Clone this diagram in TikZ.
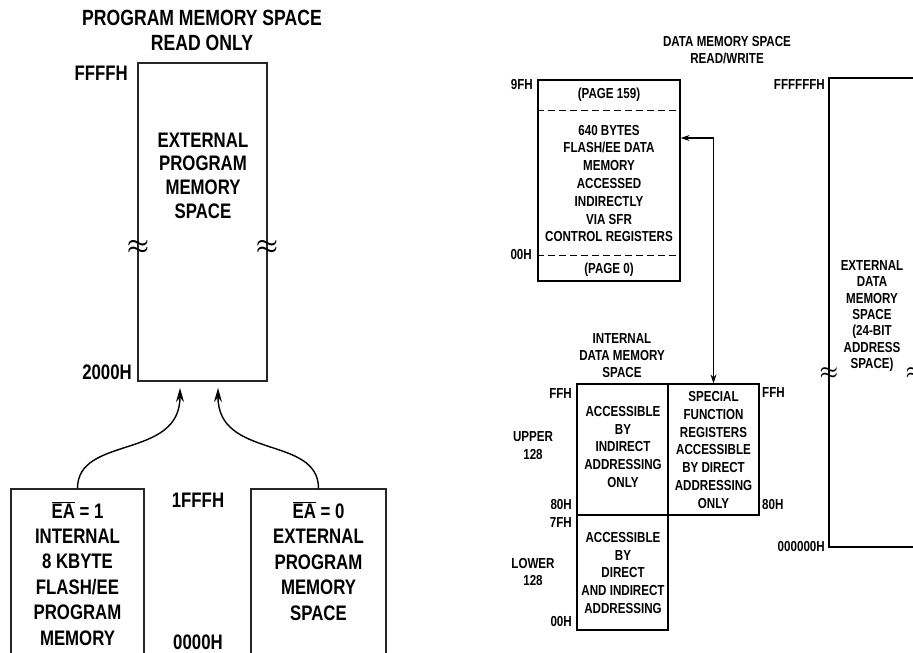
\documentclass[tikz,border=0pt]{standalone}
\usepackage{fontspec}
\setmainfont{Liberation Sans}[FakeStretch=0.8]
\usetikzlibrary{arrows.meta,positioning}

\newcommand{\ovl}[1]{$\overline{\mbox{#1}}$}

\tikzset{
  membox/.style={draw=black!85, line width=1.2pt, inner sep=0pt},
  bigtxt/.style={font=\bfseries\fontsize{21}{25}\selectfont, align=center, inner sep=0pt},
  smalltxt/.style={font=\bfseries\fontsize{14.5}{17.8}\selectfont, align=center, inner sep=0pt},
  squig/.style={font=\boldmath\fontsize{30}{30}\selectfont, inner sep=0pt},
  smallsquig/.style={font=\boldmath\fontsize{21}{21}\selectfont, inner sep=0pt},
  parrow/.style={line width=1.4pt, -{Stealth[length=14pt,width=8pt]}},
  darrow/.style={line width=1.2pt, {Stealth[length=9pt,width=6pt]}-{Stealth[length=9pt,width=6pt]}}
}

\begin{document}
\begin{tikzpicture}[x=1pt,y=-1pt]
  \clip (0,0) rectangle (913,653);
  \fill[white] (0,0) rectangle (913,653);

  % program memory space
  \node[bigtxt, font=\bfseries\fontsize{22}{25}\selectfont] (ptitle) at (202,30.5) {PROGRAM MEMORY SPACE\\READ ONLY};
  \node[membox, minimum width=129pt, minimum height=318pt] (pmem) at (202.5,222) {};
  \node[bigtxt, font=\bfseries\fontsize{21}{23.7}\selectfont] (pmemtxt) at (203,175.5) {EXTERNAL\\PROGRAM\\MEMORY\\SPACE};
  \node[squig] (psq1) at (138,247) {$\approx$};
  \node[squig] (psq2) at (267,247) {$\approx$};
  \node[bigtxt, anchor=east] (lffff) at (128,73) {FFFFH};
  \node[bigtxt, anchor=east] (l2000) at (132,372) {2000H};
  \node[bigtxt] (l1fff) at (198,500) {1FFFH};
  \node[bigtxt] (l0000) at (198,642) {0000H};

  % internal and external program memory
  \node[membox, minimum width=133pt, minimum height=176pt] (ea1) at (77.5,577) {};
  \node[bigtxt, font=\bfseries\fontsize{21}{25.4}\selectfont] (ea1txt) at (77.5,573.5)
    {\ovl{EA} = 1\\INTERNAL\\8 KBYTE\\FLASH/EE\\PROGRAM\\MEMORY};
  \node[membox, minimum width=135pt, minimum height=176pt] (ea0) at (318.5,577) {};
  \node[bigtxt, font=\bfseries\fontsize{21}{25.5}\selectfont] (ea0txt) at (318.5,561)
    {\ovl{EA} = 0\\EXTERNAL\\PROGRAM\\MEMORY\\SPACE};
  \coordinate (pin1) at (180,388);
  \coordinate (pin0) at (218,388);
  \draw[parrow] (ea1.north) .. controls (77.5,435) and (180,460) .. (pin1);
  \draw[parrow] (ea0.north) .. controls (318.5,435) and (218,460) .. (pin0);

  % data memory space
  \node[smalltxt, font=\bfseries\fontsize{14.5}{17}\selectfont] (dtitle) at (727,50.5) {DATA MEMORY SPACE\\READ/WRITE};

  % flash/ee data memory
  \node[membox, draw=black, minimum width=142pt, minimum height=201pt] (flash) at (609,180.5) {};
  \draw[line width=1pt, dash pattern=on 7pt off 4pt] ([yshift=-31pt]flash.north west) -- ([yshift=-31pt]flash.north east);
  \draw[line width=1pt, dash pattern=on 7pt off 4pt] ([yshift=26pt]flash.south west) -- ([yshift=26pt]flash.south east);
  \node[smalltxt] (pg159) at (609,95) {(PAGE 159)};
  \node[smalltxt] (flashtxt) at (609,183.5) {640 BYTES\\FLASH/EE DATA\\MEMORY\\ACCESSED\\INDIRECTLY\\VIA SFR\\CONTROL REGISTERS};
  \node[smalltxt] (pg0) at (609,270) {(PAGE 0)};
  \node[smalltxt, anchor=east] (l9f) at (533,85) {9FH};
  \node[smalltxt, anchor=east] (lf00) at (532,255) {00H};

  % internal data memory
  \node[smalltxt, font=\bfseries\fontsize{14.5}{17}\selectfont] (ititle) at (622,356) {INTERNAL\\DATA MEMORY\\SPACE};
  \node[membox, draw=black, minimum width=91pt, minimum height=131pt] (iup) at (622.5,449.5) {};
  \node[membox, draw=black, minimum width=91pt, minimum height=131pt] (sfr) at (713.5,449.5) {};
  \node[membox, draw=black, minimum width=91pt, minimum height=115pt] (ilow) at (622.5,572.5) {};
  \node[smalltxt] (iuptxt) at (623,447) {ACCESSIBLE\\BY\\INDIRECT\\ADDRESSING\\ONLY};
  \node[smalltxt, font=\bfseries\fontsize{14.5}{17.7}\selectfont] (sfrtxt) at (713.5,450) {SPECIAL\\FUNCTION\\REGISTERS\\ACCESSIBLE\\BY DIRECT\\ADDRESSING\\ONLY};
  \node[smalltxt] (ilowtxt) at (623,573) {ACCESSIBLE\\BY\\DIRECT\\AND INDIRECT\\ADDRESSING};
  \node[smalltxt, anchor=east] (lffi) at (572,394) {FFH};
  \node[smalltxt] (lupper) at (533,445.5) {UPPER\\128};
  \node[smalltxt, anchor=east] (l80i) at (572,505) {80H};
  \node[smalltxt, anchor=east] (l7fi) at (572,523) {7FH};
  \node[smalltxt] (llower) at (533,572) {LOWER\\128};
  \node[smalltxt, anchor=east] (l00i) at (572,622) {00H};
  \node[smalltxt, anchor=west] (lffs) at (762,393) {FFH};
  \node[smalltxt, anchor=west] (l80s) at (762,505) {80H};
  \draw[darrow] ([yshift=42.5pt]flash.east) -| (sfr.north);

  % external data memory
  \node[membox, draw=black, minimum width=86pt, minimum height=469pt] (ext) at (872,312.5) {};
  \node[smalltxt, font=\bfseries\fontsize{14.5}{16.3}\selectfont] (exttxt) at (872,316) {EXTERNAL\\DATA\\MEMORY\\SPACE\\(24-BIT\\ADDRESS\\SPACE)};
  \node[smallsquig] (esq1) at (829,373) {$\approx$};
  \node[smallsquig] (esq2) at (915,373) {$\approx$};
  \node[smalltxt, anchor=east] (lfff) at (825,85) {FFFFFFH};
  \node[smalltxt, anchor=east] (l000) at (825,547) {000000H};
\end{tikzpicture}
\end{document}
